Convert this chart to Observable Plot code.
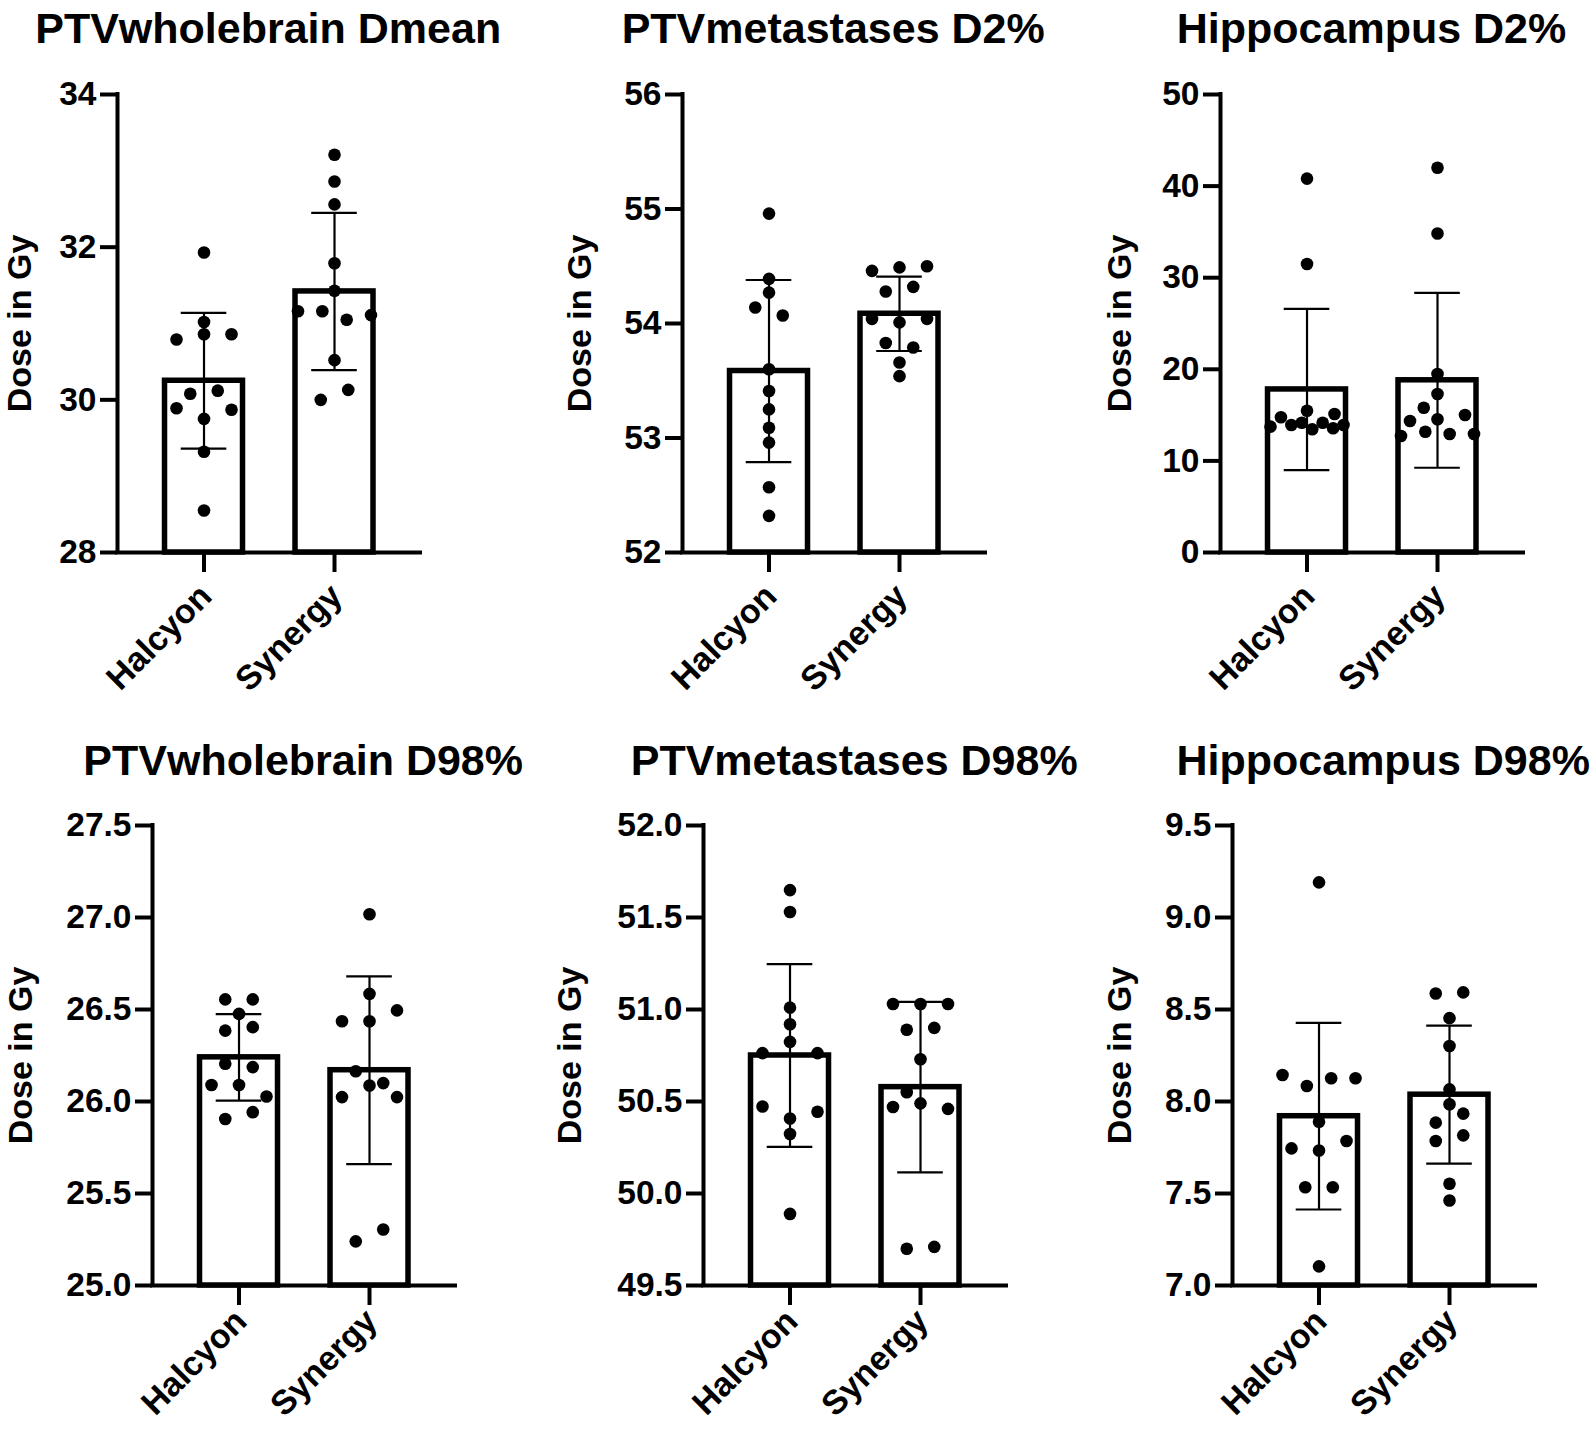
<!DOCTYPE html>
<html>
<head>
<meta charset="utf-8">
<script src="https://cdn.jsdelivr.net/npm/d3@7"></script>
<script src="https://cdn.jsdelivr.net/npm/@observablehq/plot@0.6"></script>
<style>
  html, body { margin: 0; padding: 0; background: #fff; }
  #page { position: relative; width: 1594px; height: 1429px; background: #fff; overflow: hidden;
          font-family: "Liberation Sans", Arial, Helvetica, sans-serif; }
  .title { position: absolute; transform: translateX(-50%); text-align: center; white-space: nowrap;
           font-weight: bold; font-size: 43px; line-height: 43px; color: #000; }
  .panel { position: absolute; }
  .panel svg text { font-weight: bold; }
</style>
</head>
<body>
<div id="page"></div>
<script>
// ---------------- data ----------------
const groups = ["Halcyon", "Synergy"];
const titles = ["PTVwholebrain Dmean", "PTVmetastases D2%", "Hippocampus D2%",
                "PTVwholebrain D98%", "PTVmetastases D98%", "Hippocampus D98%"];
const yLabel = "Dose in Gy";

const yTicks1 = [28, 30, 32, 34];
const yTicks2 = [52, 53, 54, 55, 56];
const yTicks3 = [0, 10, 20, 30, 40, 50];
const yTicks4 = [25.0, 25.5, 26.0, 26.5, 27.0, 27.5];
const yTicks5 = [49.5, 50.0, 50.5, 51.0, 51.5, 52.0];
const yTicks6 = [7.0, 7.5, 8.0, 8.5, 9.0, 9.5];

// individual patient values (Halcyon / Synergy) per panel
const wbDmeanHalcyon = [31.93, 31.02, 30.79, 30.86, 30.86, 30.08, 30.12, 29.89, 29.75, 29.87, 29.32, 28.55];
const wbDmeanSynergy = [33.21, 32.86, 32.56, 31.79, 31.43, 31.16, 31.16, 31.05, 31.11, 30.52, 30.00, 30.13];
const metD2Halcyon   = [54.96, 54.39, 54.27, 54.14, 54.07, 53.60, 53.41, 53.25, 53.09, 52.96, 52.57, 52.32];
const metD2Synergy   = [54.46, 54.49, 54.50, 54.28, 54.32, 54.04, 54.01, 54.04, 53.83, 53.79, 53.66, 53.54];
const hipD2Halcyon   = [40.82, 31.49, 15.48, 13.74, 14.76, 13.92, 14.17, 15.12, 13.45, 14.17, 13.56, 13.92];
const hipD2Synergy   = [42.01, 34.83, 19.48, 17.30, 15.81, 14.36, 14.54, 15.01, 12.72, 13.19, 12.94, 12.94];
const wbD98Halcyon   = [26.555, 26.555, 26.476, 26.385, 26.404, 26.205, 26.187, 26.09, 26.09, 26.027, 25.905, 25.942];
const wbD98Synergy   = [27.018, 26.585, 26.436, 26.436, 26.495, 26.164, 26.024, 26.087, 26.024, 26.10, 25.24, 25.304];
const metD98Halcyon  = [51.649, 51.53, 51.01, 50.92, 50.763, 50.824, 50.763, 50.473, 50.408, 50.444, 50.323, 49.889];
const metD98Synergy  = [51.03, 51.03, 51.03, 50.89, 50.90, 50.73, 50.55, 50.47, 50.49, 50.46, 49.70, 49.71];
const hipD98Halcyon  = [9.191, 8.144, 8.084, 8.126, 8.126, 7.89, 7.745, 7.734, 7.785, 7.534, 7.534, 7.104];
const hipD98Synergy  = [8.587, 8.593, 8.453, 8.302, 8.066, 7.985, 7.885, 7.934, 7.785, 7.816, 7.553, 7.462];

// bar heights (mean) and error bars (SD) as drawn
const meanHalcyon = [30.25, 53.585, 17.8, 26.24, 50.75, 7.92];
const sdHalcyon   = [0.89, 0.795, 8.8, 0.235, 0.497, 0.507];
const meanSynergy = [31.42, 54.085, 18.8, 26.17, 50.578, 8.037];
const sdSynergy   = [1.03, 0.325, 9.55, 0.51, 0.463, 0.375];

// ---------------- panel configuration ----------------
const panels = [
  {title: titles[0], ticks: yTicks1, decimals: 0, values: [wbDmeanHalcyon, wbDmeanSynergy]},
  {title: titles[1], ticks: yTicks2, decimals: 0, values: [metD2Halcyon, metD2Synergy]},
  {title: titles[2], ticks: yTicks3, decimals: 0, values: [hipD2Halcyon, hipD2Synergy]},
  {title: titles[3], ticks: yTicks4, decimals: 1, values: [wbD98Halcyon, wbD98Synergy]},
  {title: titles[4], ticks: yTicks5, decimals: 1, values: [metD98Halcyon, metD98Synergy]},
  {title: titles[5], ticks: yTicks6, decimals: 1, values: [hipD98Halcyon, hipD98Synergy]}
];
panels.forEach((p, k) => {
  p.mean = [meanHalcyon[k], meanSynergy[k]];
  p.sd = [sdHalcyon[k], sdSynergy[k]];
});

// layout (page pixels)
const layout = [
  {left: 116.7, top: 94,  h: 458, marginLeft: 116, labelOffset: 97,  xLabelPad: 38},
  {left: 681.7, top: 94,  h: 458, marginLeft: 150, labelOffset: 102, xLabelPad: 38},
  {left: 1220,  top: 94,  h: 458, marginLeft: 150, labelOffset: 100, xLabelPad: 38},
  {left: 151.7, top: 825, h: 460, marginLeft: 150, labelOffset: 131, xLabelPad: 30},
  {left: 702.7, top: 825, h: 460, marginLeft: 150, labelOffset: 133, xLabelPad: 30},
  {left: 1231.7,top: 825, h: 460, marginLeft: 150, labelOffset: 112, xLabelPad: 30}
];
const titleBaseline = [40, 40, 40, 772, 772, 772];
const frameW = 303;
const xDomain = [-0.663, 1.659];
const pxPerX = frameW / (xDomain[1] - xDomain[0]);
const barHalf = 39 / pxPerX;
const capHalf = 22.8 / pxPerX;
const FONT = '"Liberation Sans", Arial, Helvetica, sans-serif';

// GraphPad-like scatter layout: group near-equal values into rows, spread them horizontally
function scatterOffsets(values, pxPerY) {
  const D = 12, S = 27.5, MAX = 73;
  const idx = d3.range(values.length).sort((a, b) => values[a] - values[b] || a - b);
  const rows = [];
  let cur = null;
  for (const i of idx) {
    if (cur && (values[i] - values[cur[0]]) * pxPerY < D) cur.push(i);
    else { cur = [i]; rows.push(cur); }
  }
  const placed = [];
  const off = new Array(values.length).fill(0);
  for (const row of rows) {
    row.sort((a, b) => a - b);
    const k = row.length;
    const step = k > 1 ? Math.min(S, MAX / (k - 1)) : S;
    const base = row.map((_, j) => (j - (k - 1) / 2) * step);
    let chosen = base;
    for (const sh of [0, -S / 2, S / 2, -S, S]) {
      const cand = base.map(b => b + sh);
      if (sh !== 0 && Math.max(...cand.map(Math.abs)) > MAX / 2 + 0.5) continue;
      const ok = row.every((i, j) => placed.every(p =>
        Math.hypot(p.x - cand[j], (p.v - values[i]) * pxPerY) >= D));
      if (ok) { chosen = cand; break; }
    }
    row.forEach((i, j) => { off[i] = chosen[j]; placed.push({x: chosen[j], v: values[i]}); });
  }
  return off;
}

const page = document.getElementById("page");

panels.forEach((p, k) => {
  const L = layout[k];
  const ymin = p.ticks[0], ymax = p.ticks[p.ticks.length - 1];
  const pxPerY = L.h / (ymax - ymin);
  const marginTop = 20, marginRight = 20, marginBottom = 150;

  const stats = groups.map((g, i) => ({i, group: g, mean: p.mean[i], sd: p.sd[i]}));
  const points = [];
  groups.forEach((g, i) => {
    const vals = p.values[i];
    const off = scatterOffsets(vals, pxPerY);
    vals.forEach((v, j) => points.push({group: g, x: i + off[j] / pxPerX, value: v}));
  });

  const fmt = d3.format(p.decimals ? ".1f" : "d");

  const chart = Plot.plot({
    width: L.marginLeft + frameW + marginRight,
    height: marginTop + L.h + marginBottom,
    marginLeft: L.marginLeft, marginRight, marginTop, marginBottom,
    style: {fontFamily: FONT, fontWeight: "bold", color: "#000", background: "#fff", overflow: "visible"},
    x: {domain: xDomain, axis: null},
    y: {domain: [ymin, ymax], axis: null},
    marks: [
      Plot.rectY(stats, {x1: d => d.i - barHalf, x2: d => d.i + barHalf, y1: () => ymin, y2: "mean",
                         fill: "#fff", stroke: "#000", strokeWidth: 5.5}),
      Plot.ruleX(stats, {x: "i", y1: d => d.mean - d.sd, y2: d => d.mean + d.sd, stroke: "#000", strokeWidth: 2.2}),
      Plot.ruleY(stats, {y: d => d.mean + d.sd, x1: d => d.i - capHalf, x2: d => d.i + capHalf, stroke: "#000", strokeWidth: 2.2}),
      Plot.ruleY(stats, {y: d => d.mean - d.sd, x1: d => d.i - capHalf, x2: d => d.i + capHalf, stroke: "#000", strokeWidth: 2.2}),
      Plot.dot(points, {x: "x", y: "value", r: 6.3, fill: "#000", stroke: null}),
      Plot.ruleX([xDomain[0]], {y1: ymin, y2: ymax, stroke: "#000", strokeWidth: 4, strokeLinecap: "square"}),
      Plot.ruleY([ymin], {x1: xDomain[0], x2: xDomain[1], stroke: "#000", strokeWidth: 4, strokeLinecap: "square"}),
      Plot.axisY({ticks: p.ticks, tickFormat: fmt, tickSize: 17, tickPadding: 4, strokeWidth: 4,
                  fontSize: 33.5, fontWeight: "bold", label: null}),
      // x tick marks
      Plot.axisX({ticks: [0, 1], tickFormat: () => "", tickSize: 20, strokeWidth: 4, label: null}),
      // x tick labels (rotated)
      Plot.axisX({ticks: [0, 1], tickFormat: i => groups[i], tickSize: 0, tickPadding: L.xLabelPad,
                  tickRotate: -45, fontSize: 34, fontWeight: "bold", label: null, dx: 2}),
      Plot.text([yLabel], {text: d => d, frameAnchor: "left", textAnchor: "middle", lineAnchor: "middle",
                           dx: -L.labelOffset, rotate: -90, fontSize: 34, fontWeight: "bold", fill: "#000"})
    ]
  });

  const holder = document.createElement("div");
  holder.className = "panel";
  holder.style.left = (L.left - L.marginLeft) + "px";
  holder.style.top = (L.top - marginTop) + "px";
  holder.appendChild(chart);
  page.appendChild(holder);

  const t = document.createElement("div");
  t.className = "title";
  t.textContent = p.title;
  t.style.left = (L.left + frameW / 2) + "px";
  t.style.top = (titleBaseline[k] - 33.4) + "px";
  page.appendChild(t);
});
</script>
</body>
</html>
